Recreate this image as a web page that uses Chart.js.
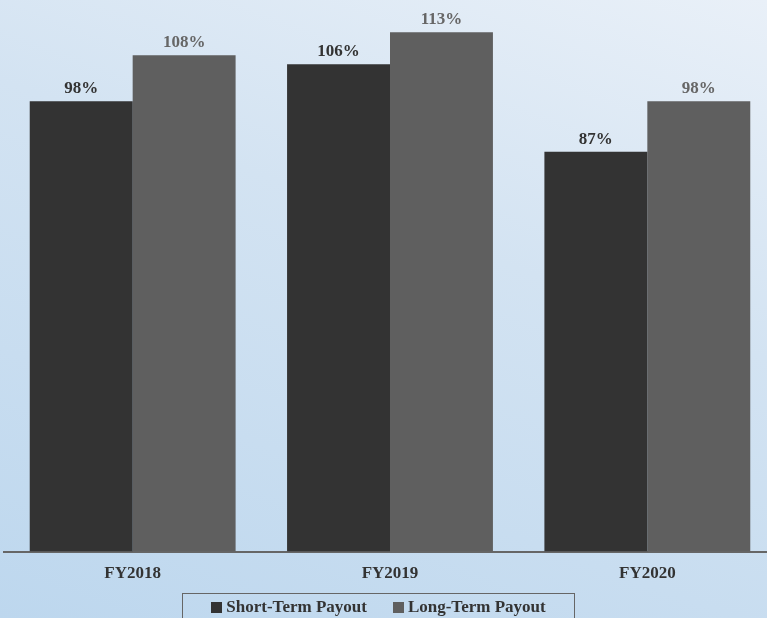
<!DOCTYPE html>
<html lang="en">
<head>
<meta charset="UTF-8">
<title>Payout Chart</title>
<script src="https://cdn.jsdelivr.net/npm/chart.js"></script>
<style>
  * { margin: 0; padding: 0; box-sizing: border-box; }
  html, body { width: 767px; height: 618px; overflow: hidden; }
  body {
    background: linear-gradient(200deg, #e9f0f8 0%, #d3e3f2 40%, #bdd7ee 100%);
    font-family: 'Liberation Serif', 'DejaVu Serif', serif;
    position: relative;
  }
  #wrap { position: absolute; left: 0; top: 0; width: 780px; height: 618px; }
  .legend {
    position: absolute; left: 182px; top: 593px; width: 393px; height: 32px;
    border: 1px solid #666; display: flex; justify-content: center; gap: 26px;
    padding-top: 0px; font-weight: bold; font-size: 17px; color: #333;
  }
  .legend span { display: flex; align-items: center; height: 26px; }
  .legend i { display: inline-block; width: 11px; height: 11px; margin-right: 4px; }
</style>
</head>
<body>
<div id="wrap"><canvas id="chart" width="780" height="618"></canvas></div>
<div class="legend">
  <span><i style="background:#333333"></i>Short-Term Payout</span>
  <span><i style="background:#5f5f5f"></i>Long-Term Payout</span>
</div>
<script>
  const categories = ['FY2018', 'FY2019', 'FY2020'];
  const shortTerm = [98, 106, 87];
  const longTerm = [108, 113, 98];

  // draws the % labels above each bar
  const valueLabels = {
    id: 'valueLabels',
    afterDatasetsDraw(chart) {
      const ctx = chart.ctx;
      ctx.save();
      ctx.font = 'bold 17px "Liberation Serif", serif';
      ctx.textAlign = 'center';
      ctx.textBaseline = 'bottom';
      chart.data.datasets.forEach((ds, i) => {
        ctx.fillStyle = ds.labelColor;
        chart.getDatasetMeta(i).data.forEach((bar, j) => {
          ctx.fillText(ds.data[j] + '%', bar.x, bar.y - 4);
        });
      });
      ctx.restore();
    }
  };

  new Chart(document.getElementById('chart'), {
    type: 'bar',
    data: {
      labels: categories,
      datasets: [
        { label: 'Short-Term Payout', data: shortTerm, backgroundColor: '#333333', labelColor: '#333333' },
        { label: 'Long-Term Payout', data: longTerm, backgroundColor: '#5f5f5f', labelColor: '#666666' }
      ]
    },
    options: {
      responsive: false,
      animation: false,
      layout: { padding: { left: 4, right: 4, top: 0, bottom: 22 } },
      datasets: { bar: { categoryPercentage: 0.8, barPercentage: 1.0 } },
      plugins: { legend: { display: false }, tooltip: { enabled: false } },
      scales: {
        x: {
          grid: { display: false, drawTicks: false },
          border: { display: true, color: '#666666', width: 2 },
          ticks: { color: '#333333', padding: 12, font: { family: 'Liberation Serif', size: 17, weight: 'bold' } }
        },
        y: { display: false, min: 0, max: 120 }
      }
    },
    plugins: [valueLabels]
  });
</script>
</body>
</html>
